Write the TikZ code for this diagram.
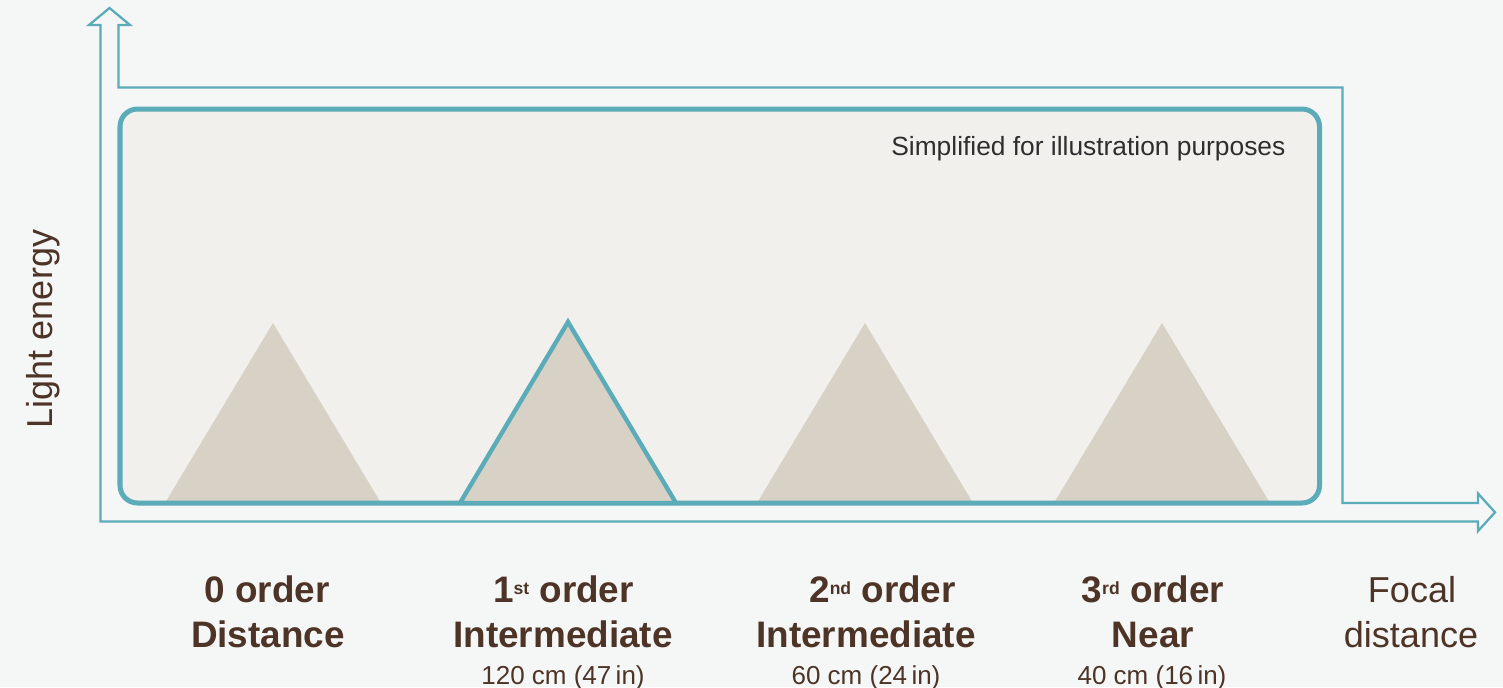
\documentclass[tikz,border=0pt]{standalone}
\usepackage{fontspec}
\setmainfont{Liberation Sans}
\usepackage{tikz}
\usetikzlibrary{positioning}
\definecolor{pagebg}{HTML}{F5F7F6}
\definecolor{axisteal}{HTML}{5BABB9}
\definecolor{boxfill}{HTML}{F1F0EC}
\definecolor{peakbeige}{HTML}{D8D2C6}
\definecolor{labelbrown}{HTML}{4D3427}
\definecolor{notegray}{HTML}{2E2E2E}
\newcommand{\ordsup}[1]{\raisebox{4.6pt}{\fontsize{10}{10}\selectfont #1}}

\begin{document}
\begin{tikzpicture}
[x=0.02cm,y=-0.02cm,
 ordlabel/.style={anchor=base,inner sep=0pt,text=labelbrown,font=\fontsize{21}{24}\selectfont\bfseries},
 axislabel/.style={anchor=base,inner sep=0pt,text=labelbrown,font=\fontsize{20.5}{24}\selectfont},
 distlabel/.style={anchor=base,inner sep=0pt,text=labelbrown,font=\fontsize{14.8}{18}\selectfont},
 peak/.style={fill=peakbeige},
 axisline/.style={draw=axisteal,line width=1.3pt,line join=miter}]
\useasboundingbox (0,0) rectangle (1503,687);
\fill[pagebg] (0,0) rectangle (1503,687);

% hollow axes
\draw[axisline] (100.5,521.5) -- (100.5,25) -- (89,25) -- (109.5,8)
  -- (130,25) -- (118.5,25) -- (118.5,87.5) -- (1342.5,87.5)
  -- (1342.5,503) -- (1478,503) -- (1478,493.5) -- (1495,512.3)
  -- (1478,531) -- (1478,521.5) -- cycle;

% panel and peaks
\fill[boxfill,rounded corners=10pt] (120,109) rectangle (1319.5,503);
\foreach \c in {273,865,1162}
  \fill[peak] (\c-108,503) -- (\c,323) -- (\c+108,503) -- cycle;
\draw[axisteal,line width=2.85pt,rounded corners=10pt] (120,109) rectangle (1319.5,503);
\draw[peak,draw=axisteal,line width=2.5pt] (460,503) -- (568,322) -- (676,503) -- cycle;

\node[anchor=base west,inner sep=0pt,text=notegray,font=\fontsize{15}{18}\selectfont] (note) at (891,155) {Simplified for illustration purposes};

\node[axislabel,rotate=90] (ylab) at (52,329) {Light energy};

\node[ordlabel] (o0a) at (267,602.5) {0 order};
\node[ordlabel] (o0b) at (268,647) {Distance};
\node[ordlabel] (o1a) at (563.5,602.5) {1\ordsup{st} order};
\node[ordlabel] (o1b) at (563,647) {Intermediate};
\node[distlabel] (o1c) at (563,684) {120 cm (47\,in)};
\node[ordlabel] (o2a) at (882.5,602.5) {2\ordsup{nd} order};
\node[ordlabel] (o2b) at (866,647) {Intermediate};
\node[distlabel] (o2c) at (866,684) {60 cm (24\,in)};
\node[ordlabel] (o3a) at (1153,602.5) {3\ordsup{rd} order};
\node[ordlabel] (o3b) at (1153,647) {Near};
\node[distlabel] (o3c) at (1152,684) {40 cm (16\,in)};
\node[axislabel] (xlaba) at (1412,602.5) {Focal};
\node[axislabel] (xlabb) at (1411,647) {distance};
\end{tikzpicture}
\end{document}
